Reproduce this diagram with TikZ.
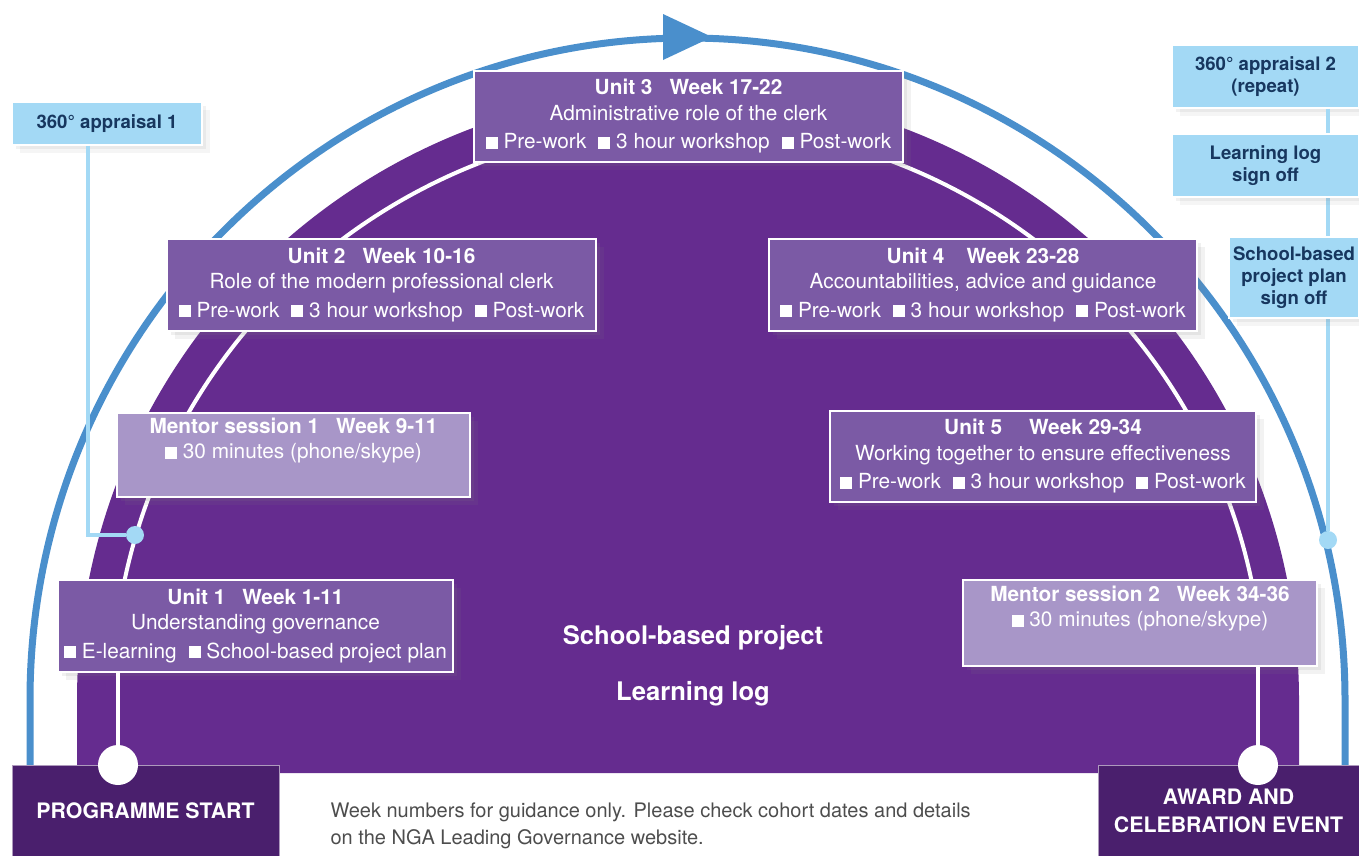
\documentclass[tikz,border=0pt]{standalone}
\usepackage{fontspec}
\setmainfont{TeX Gyre Heros}
\usepackage{tikz}
\usetikzlibrary{shadows}
\definecolor{arcblue}{HTML}{4A8FCC}
\definecolor{paleblue}{HTML}{A3D9F5}
\definecolor{navytext}{HTML}{17375F}
\definecolor{mainpurple}{HTML}{652C8F}
\definecolor{unitpurple}{HTML}{7B5AA5}
\definecolor{mentorpurple}{HTML}{A896C8}
\definecolor{darkpurple}{HTML}{4A1F6D}
\definecolor{notegray}{HTML}{4D4D4D}
\newcommand{\sq}{\rule{12pt}{12pt}}
\tikzset{
	unitstyle/.style={rectangle,draw=white,line width=2pt,fill=unitpurple,text=white,align=center,font=\fontsize{20.8}{25.5}\selectfont,drop shadow={opacity=0.12,shadow xshift=4pt,shadow yshift=-4pt},drop shadow={opacity=0.1,shadow xshift=8pt,shadow yshift=-8pt}},
	mentorstyle/.style={unitstyle,fill=mentorpurple},
	appraisalstyle/.style={rectangle,draw=white,line width=1.5pt,fill=paleblue,text=navytext,align=center,font=\fontsize{18.6}{22}\selectfont\bfseries,drop shadow={opacity=0.1,shadow xshift=4pt,shadow yshift=-4pt},drop shadow={opacity=0.08,shadow xshift=8pt,shadow yshift=-8pt}},
	endstyle/.style={rectangle,draw=white!55!darkpurple,line width=1pt,fill=darkpurple,text=white,align=center,font=\fontsize{21.3}{27.5}\selectfont\bfseries},
	centrestyle/.style={text=white,font=\fontsize{25.6}{30}\selectfont\bfseries},
	dotstyle/.style={circle,fill=paleblue,inner sep=0pt,minimum size=18pt},
	enddot/.style={circle,fill=white,inner sep=0pt,minimum size=40pt}
}

\begin{document}
\begin{tikzpicture}[x=1pt,y=-1pt]
	\useasboundingbox (0,0) rectangle (1359,855);
	\fill[mainpurple] (77,773) -- (77,700) arc[start angle=180,end angle=360,radius=611] -- (1299,773) -- cycle;
	\draw[white,line width=4pt] (688,700) ++(190:576) arc[start angle=190,end angle=350,radius=576];
	\draw[arcblue,line width=7pt] (30,765) -- (30,700) arc[start angle=180,end angle=360,x radius=657.5,y radius=662] -- (1345,765);
	\fill[arcblue] (663,14) -- (712,37) -- (663,60) -- cycle;
	\node[appraisalstyle,minimum width=190pt,minimum height=43pt] (appr1) at (107,123.5) {360° appraisal 1};
	\node[appraisalstyle,minimum width=187pt,minimum height=63pt] (appr2) at (1265.5,76.5) {360° appraisal 2\\(repeat)};
	\node[dotstyle] (dot1) at (135,535) {};
	\node[dotstyle] (dot2) at (1328,540) {};
	\coordinate (bend1) at (88,535);
	\draw[paleblue,line width=4pt] (appr1.south -| bend1) -- (bend1) -- (dot1);
	\draw[paleblue,line width=4pt] (appr2.south -| dot2) -- (dot2);
	\node[appraisalstyle,minimum width=187pt,minimum height=63pt] (logoff) at (1265.5,165.5) {Learning log\\sign off};
	\node[appraisalstyle,minimum width=130pt,minimum height=81pt] (planoff) at (1294,277.5) {School-based\\project plan\\sign off};
	\node[unitstyle,minimum width=429pt,minimum height=91pt] (unit3) at (688.5,116.5) {\textbf{Unit 3\hspace{17pt}Week 17-22}\\Administrative role of the clerk\\[3pt]\sq\ Pre-work\hspace{12pt}\sq\ 3 hour workshop\hspace{12pt}\sq\ Post-work};
	\node[unitstyle,minimum width=429pt,minimum height=92pt] (unit2) at (381.5,285) {\textbf{Unit 2\hspace{17pt}Week 10-16}\\Role of the modern professional clerk\\[3pt]\sq\ Pre-work\hspace{12pt}\sq\ 3 hour workshop\hspace{12pt}\sq\ Post-work};
	\node[unitstyle,minimum width=428pt,minimum height=92pt] (unit4) at (983,285) {\textbf{Unit 4\hspace{22pt}Week 23-28}\\Accountabilities, advice and guidance\\[3pt]\sq\ Pre-work\hspace{12pt}\sq\ 3 hour workshop\hspace{12pt}\sq\ Post-work};
	\node[mentorstyle,minimum width=353pt,minimum height=84pt] (mentor1) at (293.5,455) {\textbf{Mentor session 1\hspace{17pt}Week 9-11}\\\sq\ 30 minutes (phone/skype)\\\strut};
	\node[unitstyle,minimum width=426pt,minimum height=91pt] (unit5) at (1043,456.5) {\textbf{Unit 5\hspace{27pt}Week 29-34}\\Working together to ensure effectiveness\\[3pt]\sq\ Pre-work\hspace{12pt}\sq\ 3 hour workshop\hspace{12pt}\sq\ Post-work};
	\node[unitstyle,minimum width=395pt,minimum height=92pt] (unit1) at (255.5,626) {\textbf{Unit 1\hspace{17pt}Week 1-11}\\Understanding governance\\[3pt]\sq\ E-learning\hspace{12pt}\sq\ School-based project plan};
	\node[mentorstyle,minimum width=354pt,minimum height=86pt] (mentor2) at (1140,623) {\textbf{Mentor session 2\hspace{17pt}Week 34-36}\\\sq\ 30 minutes (phone/skype)\\\strut};
	\node[centrestyle] (project) at (693,638) {School-based project};
	\node[centrestyle] (log) at (693,694) {Learning log};
	\node[endstyle,minimum width=267pt,minimum height=92pt] (start) at (145.5,811) {PROGRAMME START};
	\node[endstyle,minimum width=261pt,minimum height=92pt] (award) at (1228.5,811) {AWARD AND\\CELEBRATION EVENT};
	\node[enddot] (startdot) at (118,765) {};
	\node[enddot] (awarddot) at (1258,765) {};
	\draw[white,line width=4pt] (unit1.south -| startdot) -- (startdot);
	\draw[white,line width=4pt] (mentor2.south -| awarddot) -- (awarddot);
	\node[anchor=north west,align=left,text=notegray,font=\fontsize{20}{27}\selectfont] (note) at (327,799) {Week numbers for guidance only. Please check cohort dates and details\\on the NGA Leading Governance website.};
\end{tikzpicture}
\end{document}
